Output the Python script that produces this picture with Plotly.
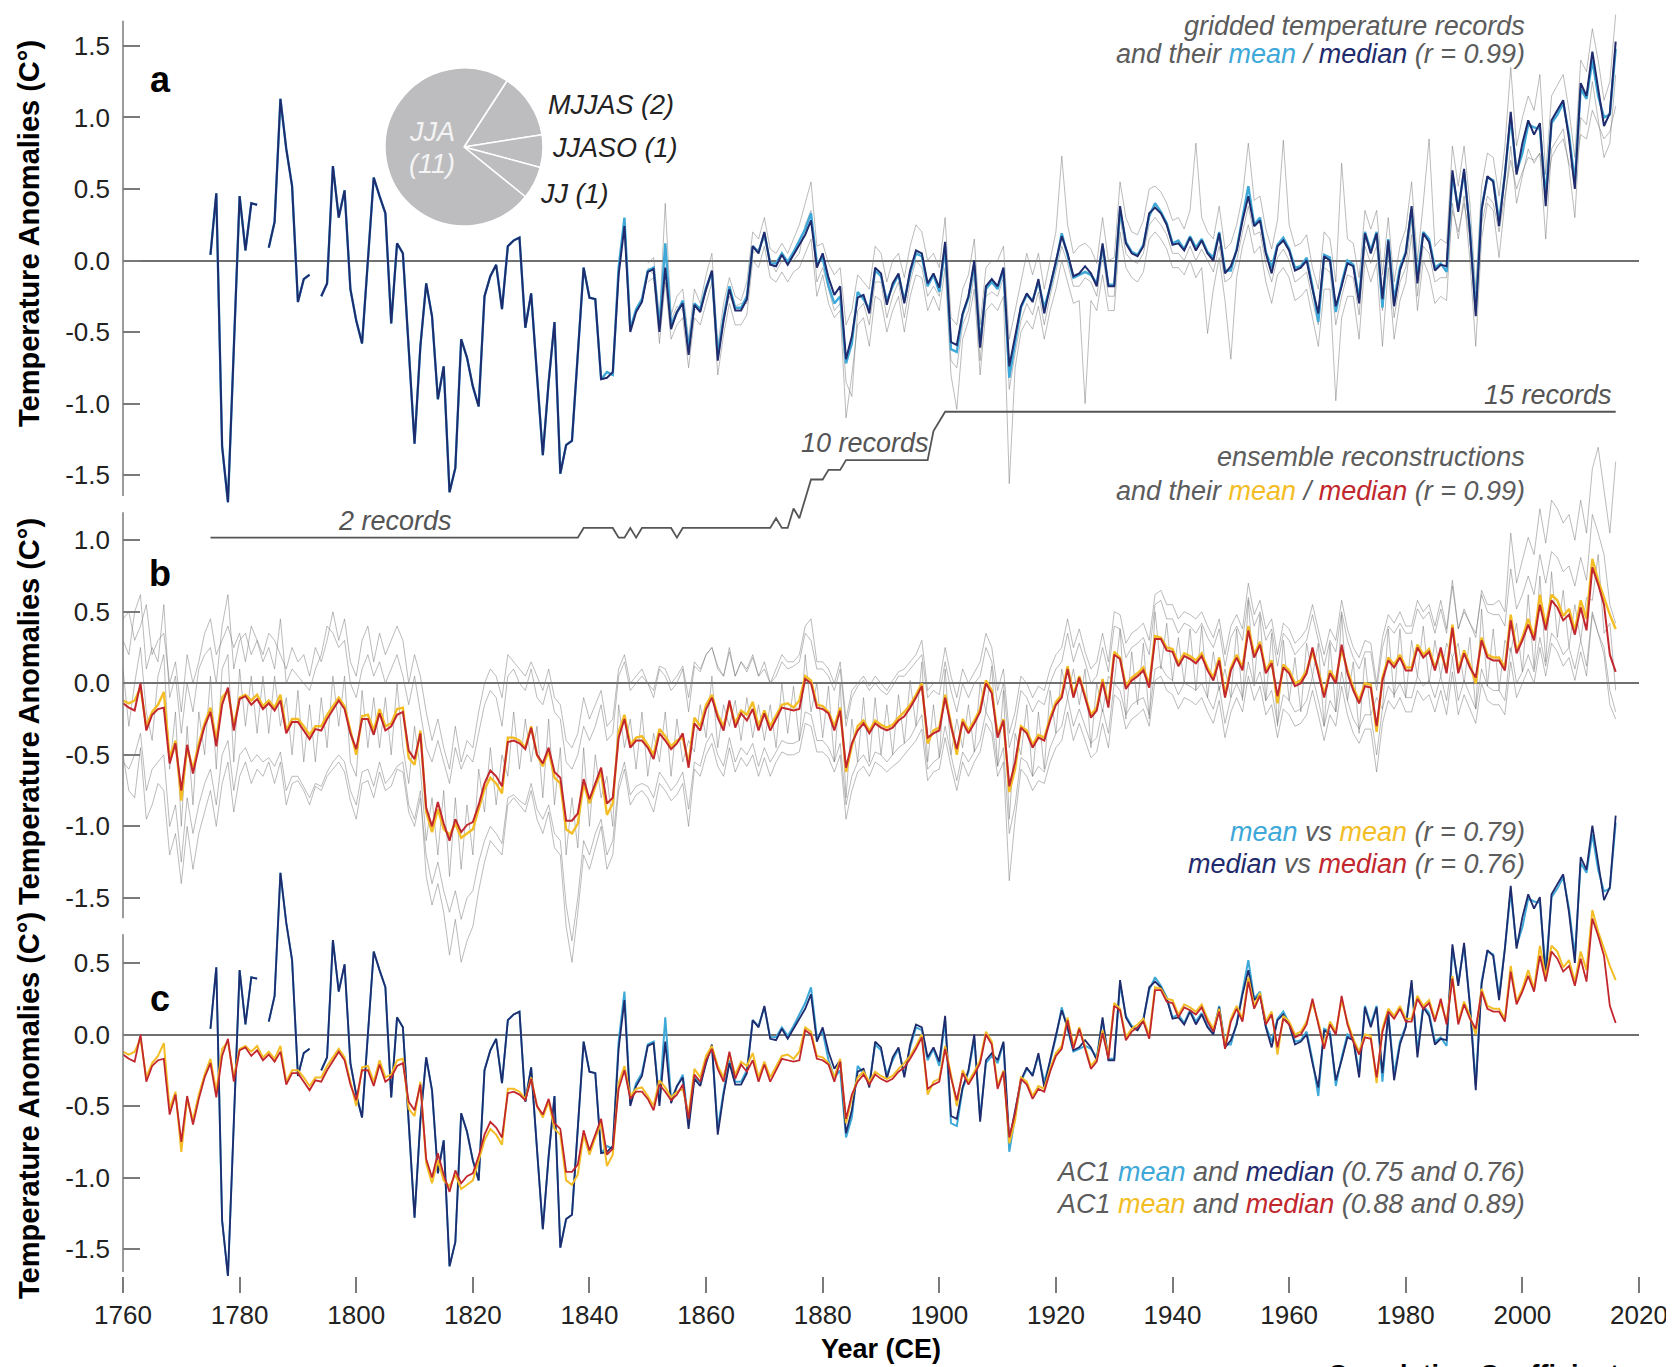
import plotly.graph_objects as go

# ---------------- DATA ----------------
YEARS_A = list(range(1775, 2017))
A_MEDIAN = [
    0.04, 0.47, -1.30, -1.69, -0.62,
    0.45, 0.07, 0.40, 0.39, None, 0.09, 0.27, 1.13, 0.78, 0.52,
    -0.29, -0.13, -0.10, None, -0.25, -0.16, 0.66, 0.30, 0.49, -0.20,
    -0.42, -0.58, 0.00, 0.58, 0.45, 0.33, -0.44, 0.12, 0.05, -0.60,
    -1.28, -0.60, -0.16, -0.39, -0.97, -0.74, -1.62, -1.45, -0.55, -0.68,
    -0.88, -1.02, -0.25, -0.11, -0.03, -0.34, 0.10, 0.14, 0.16, -0.47,
    -0.23, -0.80, -1.36, -0.85, -0.43, -1.49, -1.29, -1.26, -0.62, -0.05,
    -0.26, -0.27, -0.83, -0.82, -0.78, -0.10, 0.24, -0.50, -0.36, -0.29,
    -0.08, -0.06, -0.50, -0.05, -0.48, -0.36, -0.30, -0.66, -0.31, -0.36,
    -0.20, -0.07, -0.70, -0.42, -0.20, -0.35, -0.35, -0.27, 0.10, 0.05,
    0.20, -0.03, -0.04, 0.04, -0.03, 0.04, 0.10, 0.18, 0.28, -0.05,
    0.05, -0.12, -0.24, -0.18, -0.69, -0.53, -0.26, -0.24, -0.37, -0.05,
    -0.09, -0.31, -0.16, -0.09, -0.30, -0.07, 0.07, 0.05, -0.16, -0.09,
    -0.19, 0.13, -0.57, -0.59, -0.37, -0.25, 0.00, -0.61, -0.18, -0.13,
    -0.18, -0.05, -0.74, -0.53, -0.32, -0.23, -0.29, -0.13, -0.37, -0.18,
    0.00, 0.17, 0.05, -0.11, -0.09, -0.04, -0.09, -0.18, 0.12, -0.18,
    -0.18, 0.38, 0.12, 0.05, 0.03, 0.10, 0.33, 0.37, 0.33, 0.25,
    0.11, 0.12, 0.07, 0.16, 0.07, 0.14, 0.05, 0.00, 0.19, -0.09,
    -0.04, 0.07, 0.28, 0.45, 0.24, 0.28, 0.05, -0.09, 0.10, 0.14,
    0.07, -0.07, -0.05, 0.00, -0.20, -0.37, 0.03, 0.00, -0.32, -0.18,
    -0.02, -0.04, -0.30, 0.19, 0.05, 0.19, -0.27, 0.14, -0.32, -0.07,
    0.05, 0.38, -0.16, 0.19, 0.13, -0.07, -0.03, -0.04, 0.63, 0.34,
    0.64, 0.20, -0.39, 0.35, 0.59, 0.55, 0.24, 0.60, 1.04, 0.60,
    0.82, 0.98, 0.88, 0.96, 0.38, 0.98, 1.05, 1.12, 0.85, 0.50,
    1.24, 1.15, 1.46, 1.20, 0.94, 1.03, 1.53,
]
A_MEAN = [
    0.04, 0.47, -1.30, -1.69, -0.62,
    0.45, 0.07, 0.40, 0.39, None, 0.09, 0.27, 1.13, 0.78, 0.52,
    -0.29, -0.13, -0.10, None, -0.25, -0.16, 0.66, 0.30, 0.49, -0.20,
    -0.42, -0.58, 0.00, 0.58, 0.45, 0.33, -0.44, 0.12, 0.05, -0.60,
    -1.28, -0.60, -0.16, -0.39, -0.97, -0.74, -1.62, -1.45, -0.55, -0.68,
    -0.88, -1.02, -0.25, -0.11, -0.03, -0.34, 0.10, 0.14, 0.16, -0.47,
    -0.23, -0.80, -1.36, -0.85, -0.43, -1.49, -1.29, -1.26, -0.62, -0.05,
    -0.26, -0.27, -0.83, -0.78, -0.80, -0.05, 0.30, -0.48, -0.34, -0.27,
    -0.07, -0.05, -0.47, 0.12, -0.45, -0.36, -0.28, -0.62, -0.30, -0.34,
    -0.19, -0.08, -0.66, -0.40, -0.18, -0.33, -0.33, -0.25, 0.10, 0.06,
    0.19, -0.02, -0.02, 0.05, -0.01, 0.06, 0.14, 0.22, 0.33, -0.02,
    0.02, -0.18, -0.30, -0.25, -0.72, -0.58, -0.22, -0.27, -0.34, -0.07,
    -0.11, -0.28, -0.18, -0.10, -0.28, -0.09, 0.05, 0.03, -0.18, -0.10,
    -0.22, 0.10, -0.62, -0.64, -0.38, -0.26, -0.03, -0.58, -0.20, -0.15,
    -0.20, -0.06, -0.82, -0.58, -0.33, -0.24, -0.28, -0.15, -0.33, -0.19,
    -0.02, 0.19, 0.04, -0.12, -0.10, -0.08, -0.10, -0.16, 0.10, -0.17,
    -0.17, 0.35, 0.13, 0.06, 0.04, 0.11, 0.31, 0.40, 0.34, 0.26,
    0.12, 0.14, 0.08, 0.17, 0.09, 0.15, 0.06, 0.02, 0.20, -0.07,
    -0.07, 0.08, 0.30, 0.52, 0.25, 0.30, 0.06, -0.05, 0.11, 0.16,
    0.08, -0.05, -0.04, 0.02, -0.18, -0.43, 0.04, 0.02, -0.36, -0.16,
    0.00, -0.03, -0.27, 0.20, 0.07, 0.20, -0.33, 0.15, -0.28, -0.05,
    0.06, 0.36, -0.12, 0.20, 0.15, -0.05, -0.02, -0.08, 0.60, 0.36,
    0.62, 0.22, -0.35, 0.37, 0.58, 0.56, 0.27, 0.60, 1.00, 0.62,
    0.75, 0.95, 0.93, 0.92, 0.45, 0.96, 1.02, 1.10, 0.88, 0.55,
    1.20, 1.13, 1.40, 1.15, 1.00, 1.02, 1.48,
]

YEARS_GA = list(range(1850, 2017))
GRID_REC_1 = [
    -0.02, 0.02, -0.40, 0.40, -0.38, -0.25, -0.20, -0.55, -0.20, -0.30,
    -0.10, 0.05, -0.60, -0.30, -0.12, -0.25, -0.28, -0.15, 0.20, 0.15,
    0.30, 0.08, 0.05, 0.12, 0.05, 0.15, 0.25, 0.40, 0.55, 0.10,
    0.12, -0.02, -0.10, -0.05, -0.45, -0.35, -0.10, -0.15, -0.20, 0.10,
    0.05, -0.15, 0.00, 0.05, -0.12, 0.10, 0.25, 0.20, 0.00, 0.05,
    -0.05, 0.30, -0.40, -0.45, -0.20, -0.10, 0.15, -0.45, -0.05, 0.00,
    0.00, 0.10, -0.55, -0.35, -0.15, 0.05, -0.10, 0.05, -0.20, 0.00,
    0.20, 0.73, 0.25, 0.05, 0.10, 0.12, 0.08, -0.02, 0.30, 0.00,
    0.02, 0.55, 0.30, 0.20, 0.18, 0.28, 0.50, 0.52, 0.48, 0.40,
    0.28, 0.30, 0.22, 0.35, 0.82, 0.30, 0.20, 0.15, 0.38, 0.08,
    0.12, 0.25, 0.45, 0.82, 0.42, 0.45, 0.22, 0.08, 0.28, 0.84,
    0.25, 0.10, 0.12, 0.18, -0.05, -0.20, 0.20, 0.15, -0.15, 0.68,
    0.15, 0.12, -0.12, 0.35, 0.22, 0.35, -0.10, 0.30, -0.15, 0.10,
    0.22, 0.55, 0.00, 0.40, 0.85, 0.10, 0.15, 0.12, 0.80, 0.52,
    0.80, 0.40, -0.20, 0.52, 0.75, 0.72, 0.45, 0.80, 1.35, 0.80,
    1.00, 1.15, 1.05, 1.30, 0.60, 1.15, 1.22, 1.30, 1.05, 0.72,
    1.40, 1.32, 1.62, 1.40, 1.12, 1.25, 1.72,
]
GRID_REC_2 = [
    -0.15, -0.12, -0.58, -0.15, -0.55, -0.45, -0.40, -0.75, -0.40, -0.45,
    -0.30, -0.15, -0.80, -0.52, -0.30, -0.45, -0.45, -0.38, 0.00, -0.05,
    0.10, -0.12, -0.15, -0.08, -0.15, -0.08, -0.05, 0.05, 0.15, -0.25,
    -0.10, -0.30, -0.40, -0.35, -1.10, -0.80, -0.45, -0.40, -0.60, -0.25,
    -0.28, -0.50, -0.35, -0.25, -0.50, -0.25, -0.10, -0.12, -0.35, -0.25,
    -0.35, -0.05, -0.80, -1.04, -0.55, -0.42, -0.20, -0.80, -0.35, -0.30,
    -0.35, -0.25, -1.56, -0.75, -0.50, -0.42, -0.48, -0.32, -0.55, -0.35,
    -0.20, 0.00, -0.15, -0.30, -0.28, -1.00, -0.28, -0.35, -0.10, -0.35,
    -0.35, 0.20, -0.05, -0.12, -0.15, -0.08, 0.15, 0.20, 0.15, 0.08,
    -0.05, -0.05, -0.10, 0.00, -0.12, -0.05, -0.51, -0.20, 0.02, -0.28,
    -0.69, -0.12, 0.10, 0.25, 0.05, 0.10, -0.15, -0.30, -0.10, -0.05,
    -0.12, -0.28, -0.25, -0.20, -0.40, -0.60, -0.20, -0.20, -0.98, -0.40,
    -0.25, -0.25, -0.55, 0.00, -0.15, -0.02, -0.60, -0.05, -0.55, -0.28,
    -0.15, 0.18, -0.35, 0.00, -0.10, -0.30, -0.25, -0.28, 0.40, 0.15,
    0.45, 0.00, -0.60, 0.15, 0.40, 0.35, 0.02, 0.40, 0.80, 0.40,
    0.60, 0.78, 0.68, 0.75, 0.15, 0.78, 0.85, 0.92, 0.65, 0.30,
    1.00, 0.95, 1.25, 1.00, 0.72, 0.82, 1.30,
]
GRID_REC_3 = [
    -0.05, -0.10, -0.45, -0.08, -0.42, -0.32, -0.35, -0.60, -0.35, -0.32,
    -0.22, -0.10, -0.65, -0.40, -0.25, -0.32, -0.30, -0.30, 0.05, 0.08,
    0.15, 0.00, -0.08, 0.00, 0.00, 0.00, 0.05, 0.25, 0.35, -0.15,
    -0.05, -0.20, -0.35, -0.30, -0.85, -0.95, -0.35, -0.30, -0.45, -0.15,
    -0.15, -0.40, -0.25, -0.15, -0.40, -0.15, 0.00, -0.05, -0.25, -0.18,
    -0.25, 0.05, -0.70, -0.75, -0.45, -0.35, -0.10, -0.70, -0.25, -0.22,
    -0.25, -0.12, -0.90, -0.65, -0.42, -0.30, -0.38, -0.22, -0.45, -0.25,
    -0.08, 0.10, -0.02, -0.18, -0.18, -0.12, -0.15, -0.25, 0.05, -0.25,
    -0.25, 0.30, 0.05, 0.00, -0.02, 0.05, 0.25, 0.30, 0.25, 0.18,
    0.05, 0.05, 0.00, 0.10, 0.00, 0.08, 0.00, -0.08, 0.10, -0.15,
    -0.12, 0.00, 0.20, 0.38, 0.18, 0.20, -0.02, -0.15, 0.02, 0.08,
    0.00, -0.15, -0.12, -0.08, -0.28, -0.45, -0.05, -0.08, -0.45, -0.25,
    -0.10, -0.12, -0.38, 0.10, -0.02, 0.10, -0.35, 0.05, -0.40, -0.15,
    -0.05, 0.28, -0.25, 0.10, 0.05, -0.15, -0.12, -0.12, 0.35, 0.20,
    0.40, 0.15, -0.30, 0.25, 0.45, 0.40, 0.20, 0.45, 0.70, 0.50,
    0.62, 0.72, 0.70, 0.75, 0.45, 0.72, 0.80, 0.85, 0.68, 0.60,
    0.88, 0.85, 1.05, 0.95, 0.85, 0.90, 1.08,
]

YEARS_REC = list(range(1775, 2017))
RECORD_COUNT = (
    [2] * 5
    + [2] * 50
    + [2, 2, 2, 2, 2, 2, 2, 2, 2, 3]
    + [3, 3, 3, 3, 3, 2, 2, 3, 2, 3]
    + [3, 3, 3, 3, 3, 2, 3, 3, 3, 3]
    + [3] * 10
    + [3, 3, 4, 3, 3, 5, 4, 6, 8, 8]
    + [8, 9, 9, 9, 10, 10, 10, 10, 10, 10]
    + [10, 10, 10, 10, 10, 10, 10, 10, 10, 13]
    + [14] + [15] * 116
)

YEARS_B = list(range(1760, 2017))
B_MEDIAN = [
    -0.14, -0.17, -0.19, 0.00, -0.33, -0.22, -0.18, -0.17, -0.56, -0.42,
    -0.75, -0.43, -0.63, -0.45, -0.30, -0.20, -0.44, -0.15, -0.03, -0.33,
    -0.11, -0.09, -0.15, -0.11, -0.18, -0.14, -0.19, -0.12, -0.35, -0.27,
    -0.27, -0.33, -0.39, -0.32, -0.33, -0.25, -0.18, -0.12, -0.18, -0.35,
    -0.46, -0.25, -0.25, -0.36, -0.21, -0.33, -0.30, -0.22, -0.20, -0.47,
    -0.53, -0.35, -0.87, -1.00, -0.83, -0.98, -1.10, -0.95, -1.04, -0.99,
    -0.97, -0.85, -0.70, -0.61, -0.65, -0.72, -0.41, -0.40, -0.42, -0.46,
    -0.31, -0.50, -0.56, -0.45, -0.62, -0.66, -0.96, -0.96, -0.91, -0.67,
    -0.81, -0.70, -0.59, -0.84, -0.80, -0.38, -0.25, -0.45, -0.40, -0.40,
    -0.45, -0.53, -0.35, -0.40, -0.46, -0.42, -0.35, -0.59, -0.28, -0.33,
    -0.18, -0.10, -0.24, -0.33, -0.12, -0.31, -0.21, -0.26, -0.18, -0.33,
    -0.21, -0.33, -0.25, -0.17, -0.18, -0.19, -0.18, 0.03, 0.00, -0.17,
    -0.18, -0.21, -0.33, -0.19, -0.59, -0.42, -0.33, -0.28, -0.35, -0.28,
    -0.31, -0.33, -0.31, -0.26, -0.23, -0.17, -0.10, -0.02, -0.38, -0.35,
    -0.33, -0.10, -0.30, -0.46, -0.27, -0.35, -0.28, -0.20, 0.00, -0.07,
    -0.38, -0.26, -0.72, -0.55, -0.31, -0.35, -0.45, -0.38, -0.40, -0.26,
    -0.15, -0.10, 0.10, -0.10, 0.04, -0.10, -0.24, -0.19, 0.01, -0.17,
    0.20, 0.17, -0.04, 0.02, 0.05, 0.09, -0.03, 0.31, 0.31, 0.23,
    0.22, 0.12, 0.19, 0.17, 0.14, 0.19, 0.09, 0.02, 0.16, -0.10,
    0.09, 0.18, 0.09, 0.37, 0.18, 0.27, 0.07, 0.14, -0.09, 0.11,
    0.07, -0.02, 0.00, 0.07, 0.25, 0.07, -0.10, 0.07, 0.00, 0.27,
    0.07, -0.05, -0.14, -0.02, -0.03, -0.30, 0.02, 0.16, 0.11, 0.18,
    0.09, 0.09, 0.25, 0.18, 0.22, 0.09, 0.25, 0.07, 0.39, 0.07,
    0.21, 0.11, 0.04, 0.30, 0.18, 0.16, 0.16, 0.09, 0.44, 0.21,
    0.30, 0.41, 0.30, 0.55, 0.37, 0.58, 0.53, 0.44, 0.48, 0.34,
    0.53, 0.37, 0.81, 0.69, 0.55, 0.20, 0.08,
]
B_MEAN = [
    -0.12, -0.14, -0.12, -0.03, -0.30, -0.20, -0.15, -0.06, -0.52, -0.40,
    -0.82, -0.45, -0.60, -0.42, -0.28, -0.17, -0.40, -0.10, -0.05, -0.30,
    -0.10, -0.08, -0.12, -0.08, -0.16, -0.12, -0.17, -0.08, -0.33, -0.25,
    -0.25, -0.30, -0.36, -0.30, -0.30, -0.22, -0.16, -0.10, -0.16, -0.32,
    -0.50, -0.23, -0.22, -0.33, -0.18, -0.30, -0.28, -0.18, -0.17, -0.52,
    -0.57, -0.33, -0.90, -1.04, -0.88, -1.02, -1.06, -0.98, -1.08, -1.05,
    -1.02, -0.88, -0.74, -0.66, -0.70, -0.77, -0.38, -0.38, -0.40, -0.45,
    -0.30, -0.50, -0.58, -0.47, -0.66, -0.70, -1.02, -1.05, -0.98, -0.70,
    -0.84, -0.72, -0.62, -0.92, -0.84, -0.34, -0.22, -0.43, -0.38, -0.37,
    -0.43, -0.50, -0.32, -0.37, -0.44, -0.40, -0.38, -0.56, -0.24, -0.30,
    -0.15, -0.08, -0.22, -0.30, -0.14, -0.28, -0.19, -0.22, -0.13, -0.30,
    -0.19, -0.30, -0.22, -0.15, -0.14, -0.17, -0.12, 0.05, 0.02, -0.15,
    -0.16, -0.20, -0.30, -0.17, -0.62, -0.44, -0.30, -0.26, -0.33, -0.26,
    -0.29, -0.31, -0.29, -0.24, -0.20, -0.15, -0.08, 0.00, -0.42, -0.33,
    -0.31, -0.08, -0.28, -0.50, -0.25, -0.33, -0.26, -0.18, 0.02, -0.05,
    -0.36, -0.25, -0.76, -0.60, -0.30, -0.33, -0.43, -0.36, -0.38, -0.24,
    -0.13, -0.08, 0.12, -0.08, 0.05, -0.08, -0.22, -0.17, 0.03, -0.15,
    0.22, 0.18, -0.02, 0.04, 0.07, 0.11, -0.01, 0.33, 0.32, 0.25,
    0.24, 0.14, 0.21, 0.19, 0.16, 0.21, 0.11, 0.04, 0.18, -0.08,
    0.11, 0.20, 0.11, 0.40, 0.20, 0.29, 0.09, 0.16, -0.14, 0.13,
    0.09, 0.00, 0.02, 0.09, 0.22, 0.09, -0.08, 0.09, 0.02, 0.24,
    0.09, -0.03, -0.12, 0.00, -0.01, -0.34, 0.04, 0.18, 0.13, 0.20,
    0.11, 0.11, 0.27, 0.20, 0.24, 0.11, 0.22, 0.09, 0.41, 0.09,
    0.23, 0.13, 0.00, 0.32, 0.20, 0.18, 0.18, 0.11, 0.48, 0.23,
    0.32, 0.45, 0.32, 0.62, 0.40, 0.62, 0.58, 0.47, 0.52, 0.37,
    0.58, 0.45, 0.87, 0.72, 0.60, 0.48, 0.38,
]

ENS_1 = [
    0.30, 0.20, 0.50, 0.62, 0.10, 0.25, 0.15, 0.55, -0.10, 0.05,
    -0.35, 0.00, -0.20, 0.10, 0.20, 0.25, 0.00, 0.40, 0.62, 0.10,
    0.30, 0.35, 0.20, 0.30, 0.15, 0.25, 0.10, 0.45, 0.00, 0.10,
    0.05, 0.00, -0.05, 0.10, 0.20, 0.40, 0.35, 0.25, 0.30, 0.00,
    -0.10, 0.10, 0.20, 0.05, 0.15, 0.00, 0.10, 0.20, 0.05, -0.15,
    0.05, -0.20, -0.45, -0.55, -0.40, -0.55, -0.70, -0.45, -0.60, -0.50,
    -0.55, -0.35, -0.15, -0.05, -0.10, -0.30, 0.05, 0.10, 0.00, -0.05,
    0.10, -0.10, -0.15, 0.00, -0.20, -0.25, -0.55, -0.60, -0.50, -0.30,
    -0.40, -0.30, -0.15, -0.40, -0.35, 0.05, 0.15, -0.05, 0.00, 0.05,
    0.00, -0.10, 0.10, 0.05, -0.05, 0.00, 0.10, -0.20, 0.12, 0.08,
    0.20, 0.25, 0.10, 0.05, 0.25, 0.05, 0.15, 0.10, 0.20, 0.05,
    0.15, 0.00, 0.10, 0.20, 0.15, 0.15, 0.20, 0.40, 0.45, 0.15,
    0.15, 0.10, 0.00, 0.15, -0.25, -0.05, 0.00, 0.05, -0.02, 0.05,
    0.00, -0.05, 0.02, 0.08, 0.10, 0.15, 0.20, 0.30, -0.05, 0.00,
    0.00, 0.25, 0.05, -0.10, 0.10, 0.00, 0.08, 0.15, 0.35, 0.25,
    -0.05, 0.10, -0.35, -0.20, 0.05, 0.00, -0.10, -0.02, -0.05, 0.10,
    0.20, 0.25, 0.45, 0.25, 0.38, 0.22, 0.10, 0.15, 0.35, 0.15,
    0.50, 0.48, 0.28, 0.35, 0.38, 0.42, 0.30, 0.62, 0.65, 0.55,
    0.55, 0.45, 0.50, 0.48, 0.45, 0.50, 0.40, 0.32, 0.45, 0.20,
    0.40, 0.48, 0.38, 0.70, 0.48, 0.58, 0.38, 0.45, 0.20, 0.42,
    0.38, 0.28, 0.32, 0.38, 0.55, 0.38, 0.20, 0.38, 0.30, 0.58,
    0.38, 0.25, 0.18, 0.30, 0.28, 0.00, 0.32, 0.48, 0.42, 0.50,
    0.40, 0.40, 0.58, 0.50, 0.55, 0.40, 0.58, 0.38, 0.72, 0.38,
    0.52, 0.42, 0.35, 0.62, 0.50, 0.48, 0.48, 0.40, 0.80, 0.52,
    0.62, 0.75, 0.62, 0.90, 0.70, 0.92, 0.88, 0.78, 0.82, 0.68,
    0.88, 0.72, 1.18, 1.05, 0.90, 0.55, 0.42,
]
ENS_2 = [
    -0.55, -0.60, -0.50, -0.35, -0.75, -0.60, -0.55, -0.50, -1.00, -0.85,
    -1.25, -0.80, -1.05, -0.85, -0.70, -0.60, -0.85, -0.50, -0.40, -0.75,
    -0.50, -0.45, -0.55, -0.50, -0.55, -0.52, -0.58, -0.48, -0.75, -0.65,
    -0.65, -0.72, -0.80, -0.70, -0.72, -0.62, -0.55, -0.50, -0.55, -0.75,
    -0.85, -0.62, -0.60, -0.72, -0.55, -0.70, -0.65, -0.58, -0.55, -0.85,
    -0.95, -0.75, -1.35, -1.55, -1.40, -1.60, -1.90, -1.65, -1.95, -1.80,
    -1.70, -1.45, -1.25, -1.10, -1.15, -1.20, -0.85, -0.80, -0.85, -0.90,
    -0.75, -0.95, -1.05, -0.90, -1.15, -1.20, -1.70, -1.95, -1.60, -1.20,
    -1.30, -1.15, -1.00, -1.30, -1.20, -0.75, -0.60, -0.85, -0.78, -0.75,
    -0.80, -0.90, -0.70, -0.75, -0.82, -0.78, -0.70, -1.00, -0.60, -0.65,
    -0.50, -0.42, -0.58, -0.65, -0.45, -0.62, -0.52, -0.58, -0.50, -0.65,
    -0.52, -0.65, -0.55, -0.48, -0.50, -0.50, -0.48, -0.28, -0.30, -0.48,
    -0.48, -0.52, -0.62, -0.50, -0.95, -0.75, -0.62, -0.58, -0.65, -0.55,
    -0.58, -0.62, -0.58, -0.55, -0.50, -0.45, -0.40, -0.32, -0.68, -0.62,
    -0.60, -0.38, -0.58, -0.75, -0.55, -0.65, -0.55, -0.48, -0.28, -0.35,
    -0.65, -0.55, -1.38, -0.95, -0.60, -0.65, -0.75, -0.68, -0.70, -0.55,
    -0.45, -0.40, -0.20, -0.40, -0.28, -0.40, -0.52, -0.48, -0.28, -0.45,
    -0.08, -0.12, -0.32, -0.25, -0.22, -0.18, -0.30, 0.02, 0.05, -0.05,
    -0.08, -0.18, -0.10, -0.12, -0.15, -0.10, -0.20, -0.28, -0.12, -0.38,
    -0.20, -0.10, -0.20, 0.05, -0.12, -0.02, -0.22, -0.15, -0.38, -0.18,
    -0.22, -0.30, -0.28, -0.22, -0.05, -0.22, -0.40, -0.22, -0.30, -0.02,
    -0.22, -0.35, -0.42, -0.32, -0.32, -0.62, -0.28, -0.12, -0.18, -0.10,
    -0.20, -0.20, -0.05, -0.12, -0.08, -0.20, -0.05, -0.22, 0.08, -0.22,
    -0.08, -0.18, -0.28, 0.00, -0.12, -0.15, -0.15, -0.22, 0.15, -0.10,
    0.00, 0.10, 0.00, 0.25, 0.05, 0.28, 0.22, 0.12, 0.18, 0.02,
    0.22, 0.05, 0.48, 0.35, 0.20, -0.15, -0.25,
]
ENS_3 = [
    0.10, -0.30, 0.00, 0.25, -0.20, -0.40, 0.05, 0.20, -0.60, -0.20,
    -1.00, -0.30, -0.85, -0.20, -0.50, 0.05, -0.60, 0.10, 0.20, -0.55,
    0.10, -0.30, 0.05, -0.35, 0.05, -0.35, 0.05, -0.30, -0.10, -0.50,
    -0.05, -0.55, -0.15, -0.55, -0.10, -0.45, 0.05, -0.30, 0.05, -0.55,
    -0.65, -0.05, -0.45, -0.10, -0.45, -0.10, -0.50, 0.00, -0.45, -0.70,
    -0.30, -0.60, -1.10, -0.80, -1.20, -0.75, -1.35, -0.80, -1.30, -0.85,
    -1.20, -0.60, -0.90, -0.45, -0.85, -0.50, -0.65, -0.20, -0.60, -0.25,
    -0.55, -0.30, -0.80, -0.25, -0.85, -0.45, -1.20, -0.80, -1.15, -0.45,
    -1.00, -0.50, -0.80, -0.65, -1.00, -0.15, -0.45, -0.25, -0.60, -0.20,
    -0.65, -0.35, -0.55, -0.20, -0.65, -0.25, -0.55, -0.40, -0.48, -0.15,
    -0.38, 0.05, -0.45, -0.15, -0.30, -0.12, -0.40, -0.10, -0.38, -0.15,
    -0.40, -0.15, -0.45, 0.00, -0.35, -0.02, -0.40, 0.20, -0.20, 0.00,
    -0.38, -0.02, -0.55, 0.00, -0.80, -0.25, -0.55, -0.10, -0.55, -0.10,
    -0.50, -0.15, -0.50, -0.08, -0.42, 0.02, -0.30, 0.15, -0.55, -0.15,
    -0.52, 0.10, -0.50, -0.25, -0.45, -0.15, -0.48, 0.00, -0.20, 0.12,
    -0.58, -0.05, -0.95, -0.35, -0.50, -0.15, -0.65, -0.20, -0.60, -0.05,
    -0.35, 0.10, -0.10, 0.10, -0.15, 0.10, -0.45, 0.00, -0.20, 0.05,
    0.00, 0.38, -0.25, 0.22, -0.15, 0.28, -0.25, 0.50, 0.10, 0.42,
    0.02, 0.32, 0.00, 0.38, -0.05, 0.40, -0.10, 0.22, -0.05, 0.10,
    -0.10, 0.38, -0.12, 0.58, 0.00, 0.48, -0.12, 0.35, -0.30, 0.30,
    -0.12, 0.18, -0.20, 0.28, 0.05, 0.28, -0.30, 0.28, -0.20, 0.48,
    -0.12, 0.15, -0.35, 0.18, -0.22, -0.10, -0.18, 0.38, -0.10, 0.38,
    -0.10, 0.30, 0.05, 0.40, 0.00, 0.30, 0.05, 0.28, 0.18, 0.28,
    0.00, 0.32, -0.18, 0.52, -0.02, 0.38, -0.05, 0.30, 0.22, 0.42,
    0.08, 0.62, 0.10, 0.75, 0.15, 0.78, 0.32, 0.65, 0.25, 0.55,
    0.30, 0.60, 0.58, 0.90, 0.35, 0.42, -0.05,
]
ENS_4 = [
    0.45, 0.50, 0.30, 0.40, 0.55, 0.20, 0.30, 0.35, 0.00, 0.15,
    -0.20, 0.20, 0.00, 0.15, 0.35, 0.45, 0.20, 0.30, 0.40, 0.25,
    0.35, 0.15, 0.40, 0.30, 0.20, 0.35, 0.30, 0.20, 0.10, 0.25,
    0.15, 0.20, 0.05, 0.25, 0.15, 0.30, 0.50, 0.30, 0.45, 0.15,
    0.05, 0.30, 0.40, 0.15, 0.35, 0.20, 0.30, 0.40, 0.30, 0.00,
    0.20, 0.05, -0.20, -0.40, -0.25, -0.45, -0.60, -0.30, -0.55, -0.40,
    -0.45, -0.20, 0.00, 0.10, 0.05, -0.10, 0.20, 0.15, 0.10, 0.05,
    0.15, 0.05, -0.05, 0.10, -0.10, -0.15, -0.40, -0.45, -0.35, -0.10,
    -0.25, -0.15, -0.05, -0.30, -0.25, 0.10, 0.20, 0.00, 0.05, 0.10,
    0.00, -0.05, 0.12, 0.10, 0.00, 0.05, 0.12, -0.10, 0.15, 0.10,
    0.20, 0.25, 0.12, 0.05, 0.22, 0.05, 0.15, 0.08, 0.18, 0.05,
    0.10, 0.00, 0.05, 0.15, 0.10, 0.12, 0.15, 0.35, 0.30, 0.10,
    0.10, 0.05, -0.05, 0.10, -0.30, -0.10, -0.02, 0.02, -0.05, 0.00,
    -0.05, -0.08, -0.02, 0.05, 0.05, 0.10, 0.15, 0.20, -0.10, -0.05,
    -0.08, 0.15, -0.05, -0.20, 0.00, -0.10, 0.00, 0.05, 0.25, 0.15,
    -0.15, 0.00, -0.45, -0.30, -0.05, -0.10, -0.20, -0.12, -0.15, 0.00,
    0.10, 0.15, 0.35, 0.15, 0.28, 0.15, 0.00, 0.05, 0.25, 0.08,
    0.40, 0.38, 0.18, 0.25, 0.28, 0.32, 0.20, 0.55, 0.58, 0.45,
    0.45, 0.35, 0.42, 0.40, 0.35, 0.42, 0.32, 0.25, 0.38, 0.12,
    0.32, 0.40, 0.30, 0.60, 0.40, 0.50, 0.30, 0.38, 0.12, 0.35,
    0.30, 0.20, 0.25, 0.30, 0.48, 0.30, 0.12, 0.30, 0.22, 0.50,
    0.30, 0.18, 0.10, 0.22, 0.22, -0.05, 0.25, 0.40, 0.35, 0.42,
    0.35, 0.35, 0.52, 0.45, 0.50, 0.35, 0.52, 0.35, 0.68, 0.38,
    0.50, 0.42, 0.32, 0.65, 0.55, 0.55, 0.58, 0.50, 1.05, 0.70,
    0.85, 1.02, 0.90, 1.22, 0.98, 1.28, 1.22, 1.12, 1.18, 1.00,
    1.28, 1.05, 1.50, 1.65, 1.35, 1.05, 1.55,
]
ENS_5 = [
    -0.50, -0.75, -0.80, -0.45, -0.95, -0.85, -0.70, -0.75, -1.20, -1.05,
    -1.40, -1.00, -1.30, -1.05, -0.90, -0.75, -1.00, -0.70, -0.55, -0.90,
    -0.65, -0.55, -0.70, -0.60, -0.65, -0.55, -0.70, -0.55, -0.85, -0.70,
    -0.68, -0.75, -0.85, -0.72, -0.75, -0.65, -0.60, -0.55, -0.62, -0.82,
    -0.95, -0.70, -0.68, -0.80, -0.62, -0.75, -0.72, -0.60, -0.62, -0.90,
    -1.00, -0.80, -1.20, -1.40, -1.25, -1.45, -1.60, -1.45, -1.65, -1.50,
    -1.45, -1.25, -1.10, -1.00, -1.05, -1.12, -0.80, -0.78, -0.82, -0.85,
    -0.70, -0.88, -0.95, -0.85, -1.05, -1.10, -1.55, -1.80, -1.50, -1.10,
    -1.20, -1.05, -0.95, -1.20, -1.10, -0.70, -0.55, -0.78, -0.72, -0.70,
    -0.72, -0.80, -0.62, -0.68, -0.75, -0.70, -0.62, -0.88, -0.55, -0.58,
    -0.42, -0.35, -0.50, -0.58, -0.38, -0.55, -0.45, -0.50, -0.42, -0.58,
    -0.45, -0.55, -0.48, -0.40, -0.42, -0.42, -0.40, -0.20, -0.22, -0.40,
    -0.40, -0.45, -0.55, -0.42, -0.85, -0.65, -0.55, -0.50, -0.58, -0.48,
    -0.50, -0.55, -0.50, -0.45, -0.42, -0.38, -0.30, -0.22, -0.60, -0.55,
    -0.52, -0.30, -0.50, -0.68, -0.48, -0.55, -0.48, -0.40, -0.20, -0.28,
    -0.58, -0.45, -1.05, -0.85, -0.52, -0.55, -0.65, -0.58, -0.62, -0.45,
    -0.35, -0.30, -0.10, -0.30, -0.18, -0.30, -0.42, -0.38, -0.18, -0.35,
    0.00, -0.05, -0.22, -0.15, -0.12, -0.10, -0.22, 0.10, 0.12, 0.05,
    0.02, -0.08, 0.00, -0.02, -0.05, 0.00, -0.10, -0.18, -0.02, -0.28,
    -0.10, 0.00, -0.10, 0.15, -0.02, 0.08, -0.12, -0.05, -0.28, -0.08,
    -0.12, -0.20, -0.18, -0.12, 0.05, -0.12, -0.30, -0.12, -0.20, 0.08,
    -0.12, -0.25, -0.32, -0.22, -0.22, -0.50, -0.18, -0.02, -0.08, 0.00,
    -0.10, -0.10, 0.05, -0.02, 0.02, -0.10, 0.05, -0.12, 0.18, -0.12,
    0.02, -0.08, -0.18, 0.10, -0.02, -0.05, -0.05, -0.12, 0.25, 0.00,
    0.08, 0.20, 0.08, 0.32, 0.12, 0.35, 0.30, 0.20, 0.25, 0.10,
    0.30, 0.12, 0.50, 0.35, 0.25, -0.05, -0.20,
]

PIE_LABELS = ["MJJAS", "JJASO", "JJ", "JJA"]
PIE_VALUES = [2, 1, 1, 11]

X_TICKS = list(range(1760, 2021, 20))
Y_TICKS_A = [-1.5, -1.0, -0.5, 0.0, 0.5, 1.0, 1.5]
Y_TICKS_B = [-1.5, -1.0, -0.5, 0.0, 0.5, 1.0]
Y_TICKS_C = [-1.5, -1.0, -0.5, 0.0, 0.5]

# ---------------- LAYOUT (screen pixel targets) ----------------
WIN_W, WIN_H = 1674, 1367
OFF = 8                      # page body margin of the exported html
SL, ST, SR, SB = 123, 10, 1639, 1276   # plot area on screen
FW, FH = WIN_W - OFF, WIN_H - OFF
SCALE = 143.06  # px per degree


def px(x):
    return (x - SL) / (SR - SL)


def py(y):
    return (SB - y) / (SB - ST)


def yrange(zero_px, scale, base=0.0):
    return [base - (SB - zero_px) / scale, base + (zero_px - ST) / scale]


FONT = "Liberation Sans, Arial, Helvetica, sans-serif"
NAVY = "#1f2b6c"
LBLUE = "#3ea8d8"
RED = "#c1272d"
YELLOW = "#f3bd25"
GREY = "rgba(120,120,120,0.5)"
TXT = "#5c5c5c"
AXC = "#7a7a7a"


def tick_text(vals):
    return ["%.1f" % v for v in vals]


fig = go.Figure()

# panel a
for g in (GRID_REC_1, GRID_REC_2, GRID_REC_3):
    fig.add_trace(go.Scatter(x=YEARS_GA, y=g, mode="lines", yaxis="y",
                             line=dict(color=GREY, width=1), hoverinfo="skip"))
fig.add_trace(go.Scatter(x=YEARS_A, y=A_MEAN, mode="lines", yaxis="y",
                         line=dict(color=LBLUE, width=2.4)))
fig.add_trace(go.Scatter(x=YEARS_A, y=A_MEDIAN, mode="lines", yaxis="y",
                         line=dict(color=NAVY, width=2)))
fig.add_trace(go.Scatter(x=YEARS_REC, y=RECORD_COUNT, mode="lines", yaxis="y4",
                         line=dict(color="#555555", width=1.8)))

# panel b
for g in (ENS_1, ENS_2, ENS_3, ENS_4, ENS_5):
    fig.add_trace(go.Scatter(x=YEARS_B, y=g, mode="lines", yaxis="y2",
                             line=dict(color=GREY, width=1), hoverinfo="skip"))
fig.add_trace(go.Scatter(x=YEARS_B, y=B_MEAN, mode="lines", yaxis="y2",
                         line=dict(color=YELLOW, width=2.4)))
fig.add_trace(go.Scatter(x=YEARS_B, y=B_MEDIAN, mode="lines", yaxis="y2",
                         line=dict(color=RED, width=2)))

# panel c
fig.add_trace(go.Scatter(x=YEARS_A, y=A_MEAN, mode="lines", yaxis="y3",
                         line=dict(color=LBLUE, width=2)))
fig.add_trace(go.Scatter(x=YEARS_A, y=A_MEDIAN, mode="lines", yaxis="y3",
                         line=dict(color=NAVY, width=1.8)))
fig.add_trace(go.Scatter(x=YEARS_B, y=B_MEAN, mode="lines", yaxis="y3",
                         line=dict(color=YELLOW, width=2)))
fig.add_trace(go.Scatter(x=YEARS_B, y=B_MEDIAN, mode="lines", yaxis="y3",
                         line=dict(color=RED, width=1.8)))

# pie
PIE_CX, PIE_CY, PIE_R = 464, 147, 79
fig.add_trace(go.Pie(labels=PIE_LABELS, values=PIE_VALUES, sort=False,
                     direction="clockwise", rotation=33, textinfo="none",
                     hoverinfo="skip", showlegend=False,
                     marker=dict(colors=["#bdbdc0"] * 4,
                                 line=dict(color="white", width=1.5)),
                     domain=dict(x=[px(PIE_CX - PIE_R), px(PIE_CX + PIE_R)],
                                 y=[py(PIE_CY + PIE_R), py(PIE_CY - PIE_R)])))

yax_common = dict(showgrid=False, zeroline=True, zerolinecolor="#707070",
                  zerolinewidth=1.5, ticks="inside", ticklen=17, tickwidth=1.5,
                  tickcolor=AXC, showline=False, ticklabelstandoff=12,
                  tickfont=dict(family=FONT, size=26, color="#222"))

fig.update_layout(
    width=FW, height=FH,
    margin=dict(l=SL - OFF, r=WIN_W - SR, t=ST - OFF, b=WIN_H - SB, pad=0),
    paper_bgcolor="white", plot_bgcolor="white", showlegend=False,
    xaxis=dict(range=[1760, 2020], showgrid=False, zeroline=False, showline=False,
               tickvals=X_TICKS, ticks="outside", ticklen=16, tickwidth=1.5,
               tickcolor=AXC, ticklabelstandoff=0,
               tickfont=dict(family=FONT, size=26, color="#222")),
    yaxis=dict(range=yrange(260.5, SCALE), tickvals=Y_TICKS_A,
               ticktext=tick_text(Y_TICKS_A), **yax_common),
    yaxis2=dict(range=yrange(683.3, SCALE), tickvals=Y_TICKS_B,
                ticktext=tick_text(Y_TICKS_B), overlaying="y", anchor="x", **yax_common),
    yaxis3=dict(range=yrange(1034.5, SCALE), tickvals=Y_TICKS_C,
                ticktext=tick_text(Y_TICKS_C), overlaying="y", anchor="x", **yax_common),
    yaxis4=dict(range=yrange(537.6, 9.68, base=2), overlaying="y", visible=False),
)

# left axis segments of each panel
for yref, lo, hi in (("y", -1.647, 1.675), ("y2", -1.643, 1.196), ("y3", -1.66, 0.70)):
    fig.add_shape(type="line", xref="paper", yref=yref, x0=0, x1=0, y0=lo, y1=hi,
                  line=dict(color=AXC, width=1.5))


def ann(text, x, y, size=27, color=TXT, xanchor="center", yanchor="middle",
        angle=0, bold=False, italic=False):
    t = text
    if italic:
        t = "<i>" + t + "</i>"
    if bold:
        t = "<b>" + t + "</b>"
    fig.add_annotation(text=t, x=px(x), y=py(y), xref="paper", yref="paper",
                       showarrow=False, xanchor=xanchor, yanchor=yanchor,
                       textangle=angle, font=dict(family=FONT, size=size, color=color))


def c(word, col):
    return "<span style='color:%s'>%s</span>" % (col, word)


RIGHT = 1527
ann("gridded temperature records", RIGHT, 26, xanchor="right", italic=True)
ann("and their " + c("mean", LBLUE) + " / " + c("median", NAVY) + " (r = 0.99)",
    RIGHT, 54, xanchor="right", italic=True)
ann("ensemble reconstructions", RIGHT, 457, xanchor="right", italic=True)
ann("and their " + c("mean", YELLOW) + " / " + c("median", RED) + " (r = 0.99)",
    RIGHT, 491, xanchor="right", italic=True)
ann(c("mean", LBLUE) + " vs " + c("mean", YELLOW) + " (r = 0.79)",
    RIGHT, 832, xanchor="right", italic=True)
ann(c("median", NAVY) + " vs " + c("median", RED) + " (r = 0.76)",
    RIGHT, 864, xanchor="right", italic=True)
ann("AC1 " + c("mean", LBLUE) + " and " + c("median", NAVY) + " (0.75 and 0.76)",
    RIGHT, 1172, xanchor="right", italic=True)
ann("AC1 " + c("mean", YELLOW) + " and " + c("median", RED) + " (0.88 and 0.89)",
    RIGHT, 1204, xanchor="right", italic=True)

ann("15 records", 1614, 395, xanchor="right", italic=True, color="#555")
ann("10 records", 865, 443, italic=True, color="#555")
ann("2 records", 395, 521, italic=True, color="#555")

ann("MJJAS (2)", 546, 105, xanchor="left", italic=True, color="#222")
ann("JJASO (1)", 550, 148, xanchor="left", italic=True, color="#222")
ann("JJ (1)", 538, 194, xanchor="left", italic=True, color="#222")
ann("JJA", 432, 132, italic=True, color="#f4f4f4")
ann("(11)", 432, 164, italic=True, color="#f4f4f4")

ann("a", 160, 80, size=36, color="black", bold=True)
ann("b", 160, 573, size=36, color="black", bold=True)
ann("c", 160, 998, size=36, color="black", bold=True)

for yc in (234, 712, 1106):
    ann("Temperature Anomalies (C°)", 29, yc, size=29, color="black", angle=-90, bold=True)

ann("Year (CE)", 881, 1349, size=27, color="black", bold=True)
ann("Correlation Coefficient", 1473, 1358, size=27, color="black", bold=True, yanchor="top")

fig.write_html("out.html")
